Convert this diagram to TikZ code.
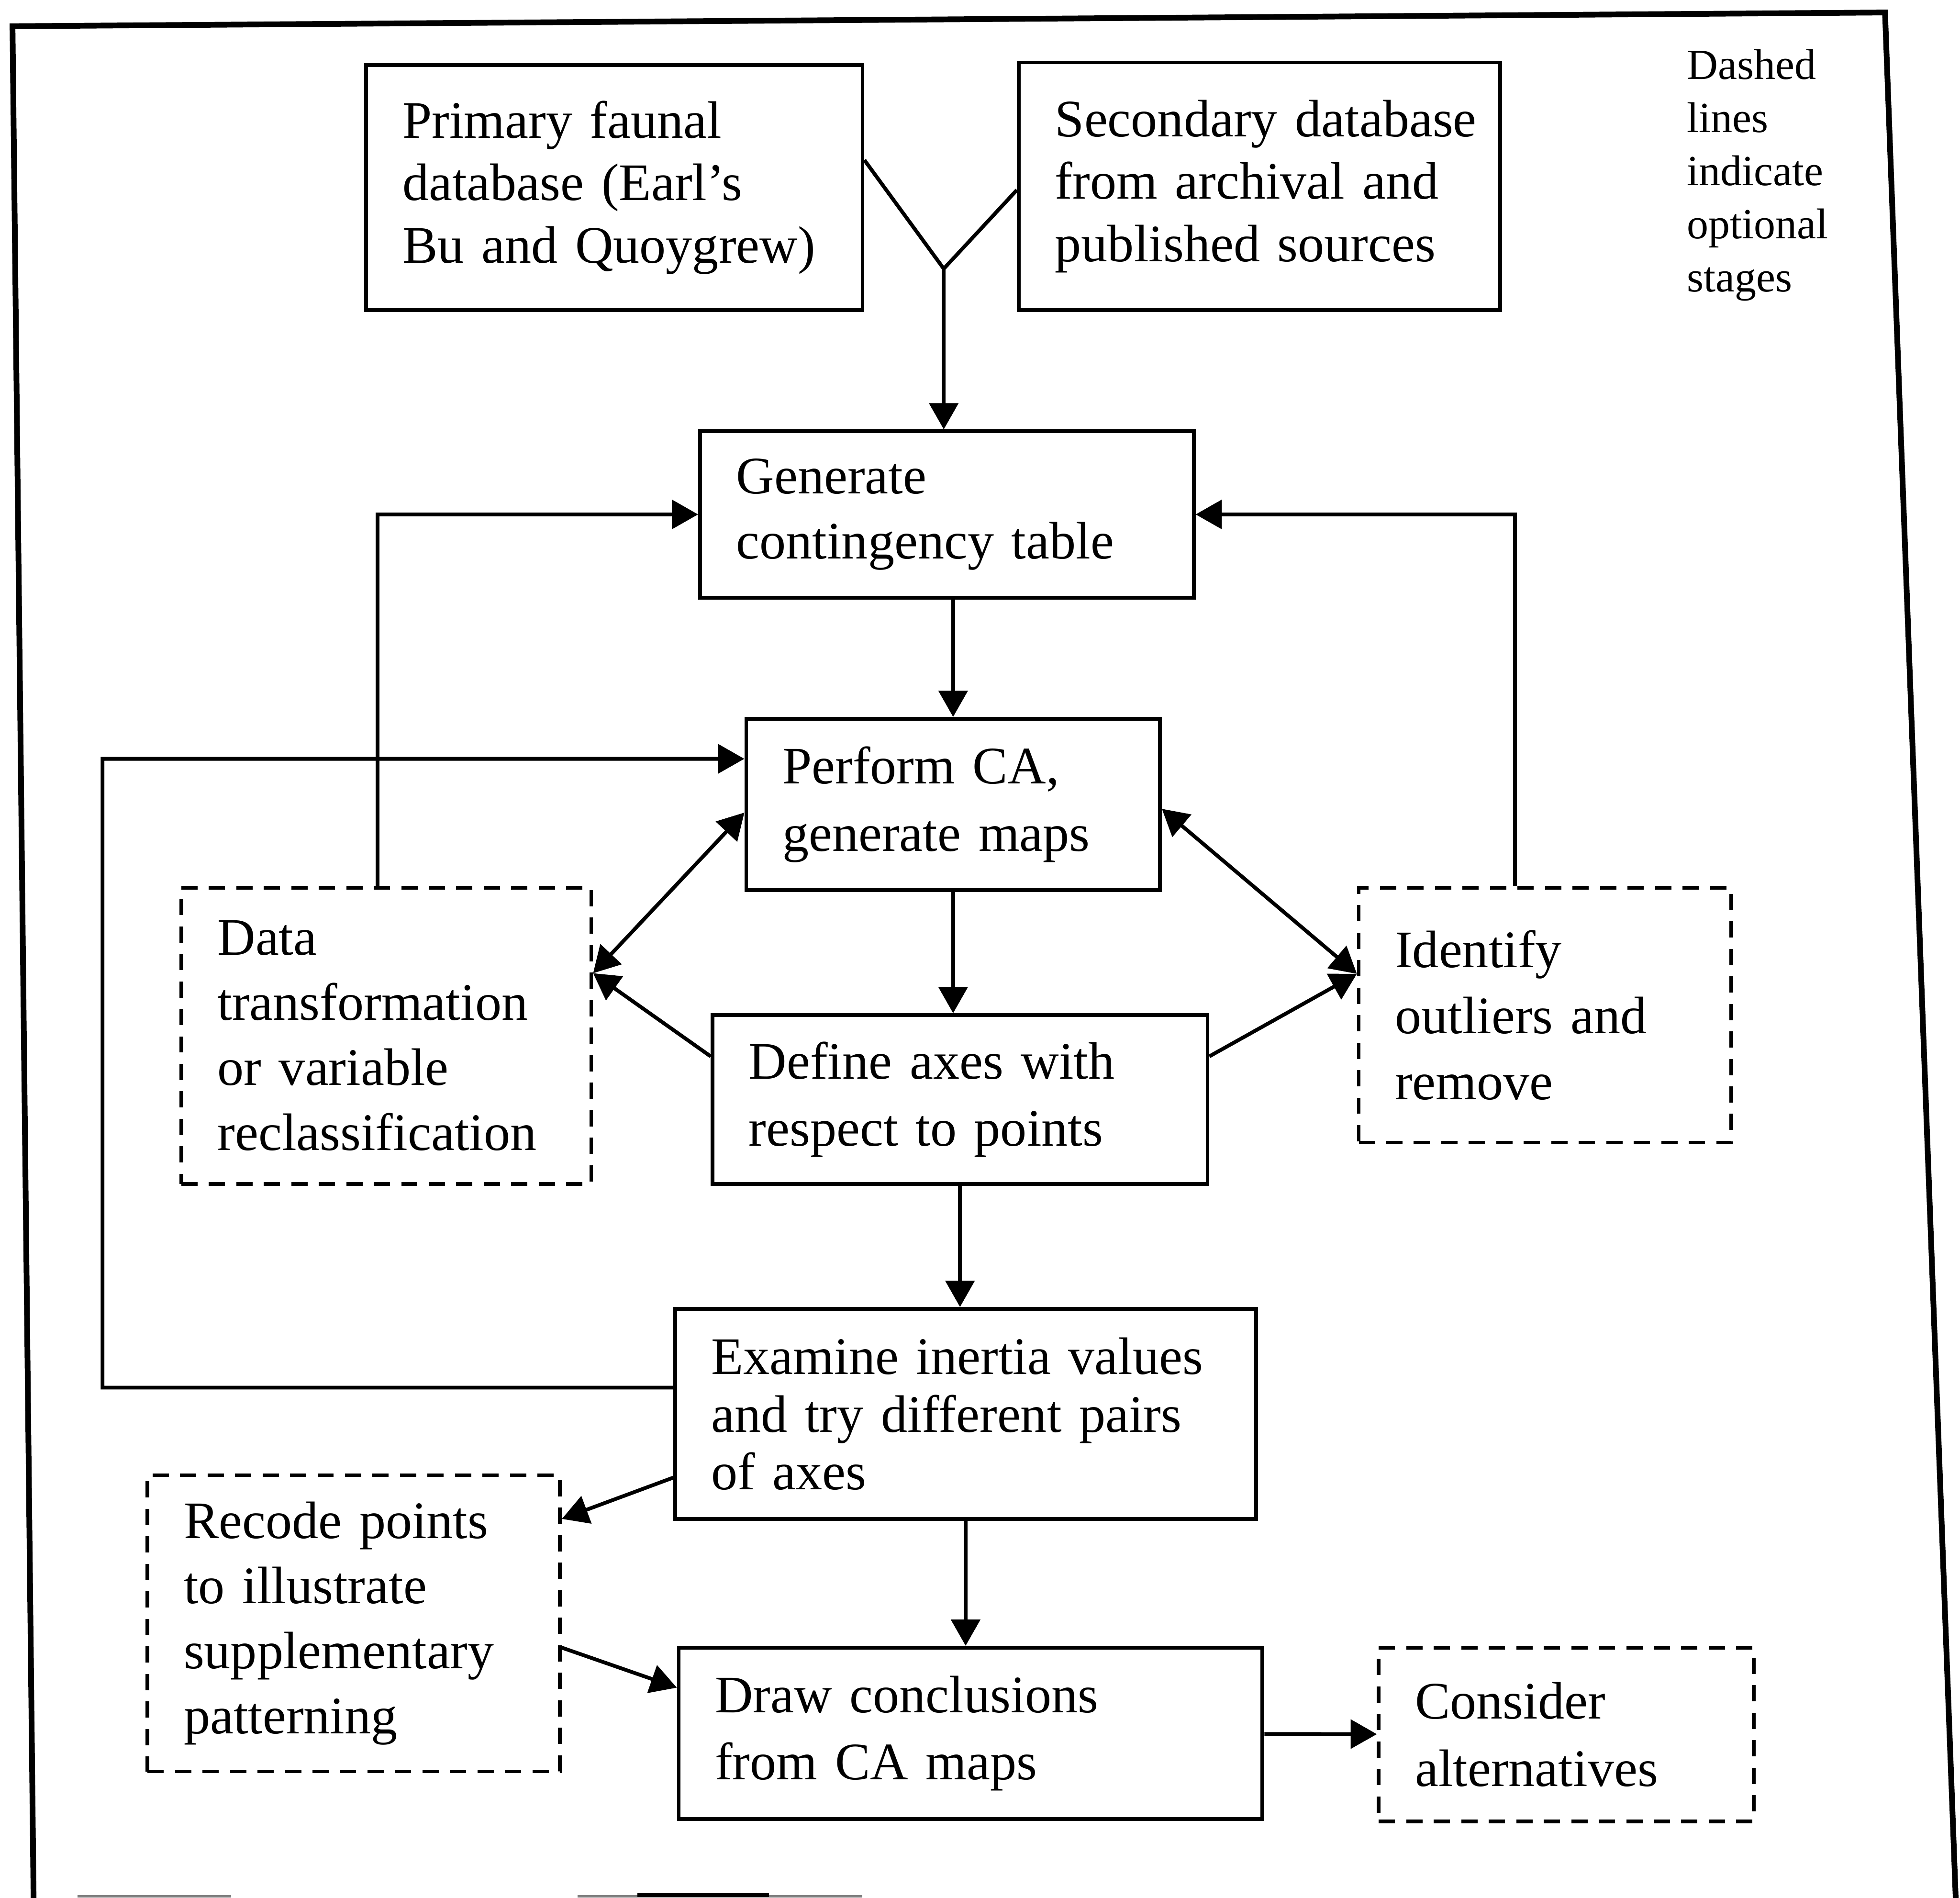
\documentclass[tikz,border=0pt]{standalone}
\usepackage{fontspec}
\setmainfont{Liberation Serif}
\usetikzlibrary{arrows.meta}

\begin{document}
\begin{tikzpicture}[->,>={Triangle[length=2.1mm,width=2.3mm]}, x=0.1mm, y=-0.1mm, line width=0.85pt]
    \tikzstyle{stage}=[rectangle, draw, -, align=left,
                       inner xsep=2.9mm, inner ysep=0pt,
                       font=\fontsize{12}{14.8}\selectfont]
    \tikzstyle{optional}=[stage, dash pattern=on 1.3mm off 0.9mm]
    \tikzstyle{frame}=[-, line width=1.3pt]
    \useasboundingbox (0,0) rectangle (1568,1518);

    % scanned border
    \draw[frame] (27,1530) -- (10,21) -- (1508,10) -- (1565,1530);
    \draw[-, gray, line width=0.5pt] (62,1517) -- (185,1517) (462,1517) -- (690,1517);
    \draw[-, line width=0.8pt] (510,1516) -- (615,1516);

    \node[stage, text width=33.9mm, minimum height=19.6mm, font=\fontsize{12}{14.2}\selectfont] (prim) at (491.5,150)
        {Primary faunal\\database (Earl’s\\Bu and Quoygrew)};
    \node[stage, text width=32.7mm, minimum height=19.8mm, font=\fontsize{12}{14.2}\selectfont] (sec) at (1007.5,149)
        {Secondary~database\\from archival and\\published sources};
    \node[anchor=west, align=left, inner sep=0pt, font=\fontsize{9.8}{12.1}\selectfont] (note) at (1348,140)
        {Dashed\\lines\\indicate\\optional\\stages};
    \node[stage, text width=33.7mm, minimum height=13.3mm] (gen) at (757.5,411.5)
        {Generate\\contingency table};
    \node[stage, text width=27.3mm, minimum height=13.7mm, font=\fontsize{12}{15.3}\selectfont] (perf) at (762.5,643.5)
        {Perform CA,\\generate maps};
    \node[optional, text width=27mm, minimum height=23.7mm] (data) at (309,828.5)
        {Data\\transformation\\or variable\\reclassification};
    \node[optional, text width=24mm, minimum height=20.4mm, font=\fontsize{12}{15}\selectfont] (iden) at (1236,812)
        {Identify\\outliers and\\remove};
    \node[stage, text width=33.8mm, minimum height=13.5mm, font=\fontsize{12}{15.3}\selectfont] (def) at (768,879.5)
        {Define axes with\\respect to points};
    \node[stage, text width=40.7mm, minimum height=16.8mm, font=\fontsize{12}{13.1}\selectfont] (exam) at (772.5,1131)
        {Examine inertia values\\and try different pairs\\of axes};
    \node[optional, text width=27.2mm, minimum height=23.7mm] (rec) at (283,1298.5)
        {Recode points\\to illustrate\\supplementary\\patterning};
    \node[stage, text width=40.9mm, minimum height=13.7mm, font=\fontsize{12}{15.3}\selectfont] (draw) at (776.5,1386.5)
        {Draw conclusions\\from CA maps};
    \node[optional, text width=24.2mm, minimum height=13.9mm, font=\fontsize{12}{15.3}\selectfont] (cons) at (1253,1387.5)
        {Consider\\alternatives};

    % the two databases merge
    \coordinate (join) at (755,215);
    \draw[-] ([yshift=2.2mm]prim.east) -- (join);
    \draw[-] ([yshift=-0.3mm]sec.west) -- (join);
    \draw (join) -- (join |- gen.north);

    % main line
    \draw (gen.south -| perf.north) -- (perf.north);
    \draw (perf.south) -- (perf.south |- def.north);
    \draw (def.south) -- (def.south |- exam.north);
    \draw (exam.south) -- (exam.south |- draw.north);
    \draw (draw) -- (cons);

    % feedback loops
    \draw ([xshift=-0.7mm]data.north) |- (gen.west);
    \draw ([xshift=-2.4mm]iden.north) |- (gen.east);
    \coordinate (rim) at (82,1110);
    \draw ([yshift=2.1mm]exam.west) -- (rim) |- ([yshift=3.65mm]perf.west);

    \draw[<->] ([yshift=5mm]data.east) -- ([yshift=-0.65mm]perf.west);
    \draw ([yshift=3.45mm]def.west) -- ([yshift=5mm]data.east);
    \draw[<->] ([yshift=-0.35mm]perf.east) -- ([yshift=3.3mm]iden.west);
    \draw ([yshift=3.45mm]def.east) -- ([yshift=3.3mm]iden.west);
    \draw ([yshift=-5.1mm]exam.west) -- ([yshift=8.35mm]rec.east);
    \draw ([yshift=-1.95mm]rec.east) -- ([yshift=3.65mm]draw.west);
\end{tikzpicture}
\end{document}
